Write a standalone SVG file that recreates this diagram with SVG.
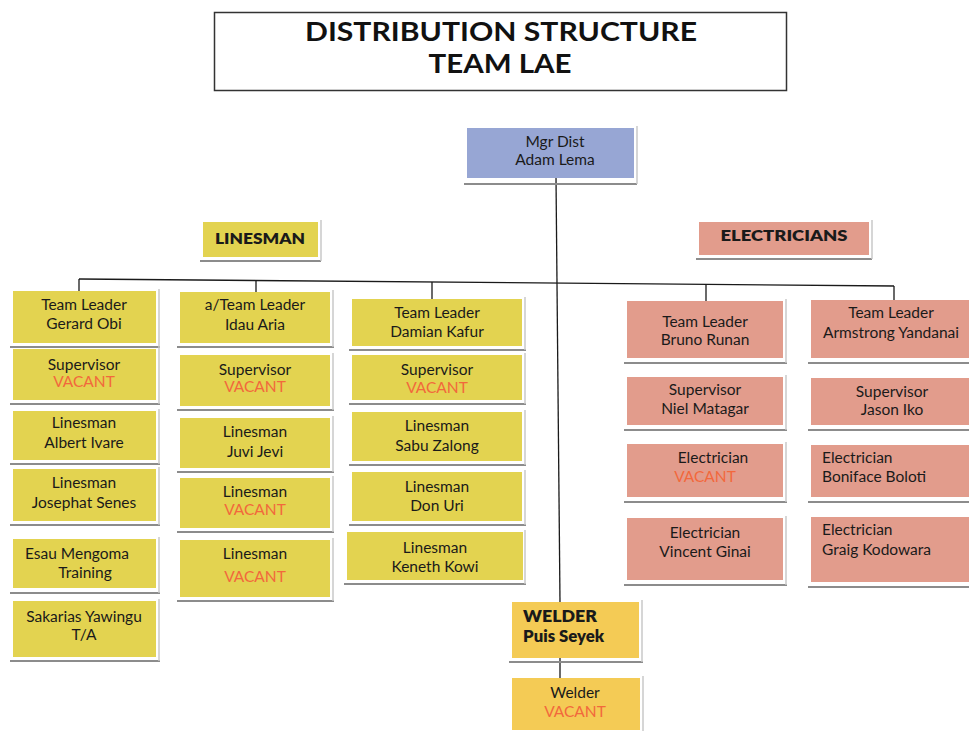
<svg xmlns="http://www.w3.org/2000/svg" width="969" height="731" viewBox="0 0 969 731">
<style>
text{font-family:Lato,"Open Sans","Liberation Sans",sans-serif;font-size:15.5px;fill:#1a1a1a;text-anchor:middle}
.title{font-size:27px;font-weight:700;fill:#111}
.lbl{font-size:15px;font-weight:800}
.wb{font-size:16px;font-weight:800;text-anchor:start}
.ls{text-anchor:start}
.v{fill:#f2683c}
.y{fill:#e3d350}
.s{fill:#e29c8c}
.o{fill:#f4cb55}
.b{fill:#97a6d4}
.sh{fill:none;stroke:#8c8c8c;stroke-width:2}
.shr{fill:none;stroke:#c8c8c8;stroke-width:1.5}
.c{fill:none;stroke:#1a1a1a;stroke-width:1.3}
</style>
<rect width="969" height="731" fill="#ffffff"/>

<g id="title">
<rect x="214.5" y="12.5" width="572" height="78" fill="#fff" stroke="#333" stroke-width="1.5"/>
<text class="title" x="501" y="41" textLength="392" lengthAdjust="spacingAndGlyphs">DISTRIBUTION STRUCTURE</text>
<text class="title" x="500" y="73" textLength="143" lengthAdjust="spacingAndGlyphs">TEAM LAE</text>
</g>

<g id="connectors">
<path class="c" d="M556 178 L560 602"/>
<path class="c" d="M79 279 L894 286"/>
<path class="c" d="M79 279 V291"/>
<path class="c" d="M256 280.5 V292"/>
<path class="c" d="M432 282 V299"/>
<path class="c" d="M706 284.4 V301"/>
<path class="c" d="M894 286 V300"/>
<path class="c" d="M560 658 V678"/>
</g>

<g id="mgr">
<path class="sh" d="M464 184 H637"/><path class="shr" d="M637 126 V184"/>
<rect class="b" x="467" y="128" width="167" height="50"/>
<text x="555" y="147">Mgr Dist</text><text x="555" y="165">Adam Lema</text>
</g>

<g id="lbl-linesman">
<path class="sh" d="M200 261 H321"/><path class="shr" d="M321 220 V261"/>
<rect class="y" x="203" y="222" width="115" height="35"/>
<text class="lbl" x="260" y="244" textLength="90" lengthAdjust="spacingAndGlyphs">LINESMAN</text>
</g>

<g id="lbl-electricians">
<path class="sh" d="M696 259 H872"/><path class="shr" d="M872 220 V259"/>
<rect class="s" x="699" y="222" width="170" height="33"/>
<text class="lbl" x="784" y="241" textLength="127" lengthAdjust="spacingAndGlyphs">ELECTRICIANS</text>
</g>

<!-- Column 1 -->
<g id="c1n1">
<path class="sh" d="M10 347 H160"/><path class="shr" d="M159 289 V347"/>
<rect class="y" x="13" y="291" width="143" height="52"/>
<text x="84" y="310">Team Leader</text><text x="84" y="329">Gerard Obi</text>
</g>
<g id="c1n2">
<path class="sh" d="M10 404 H160"/><path class="shr" d="M159 347 V404"/>
<rect class="y" x="13" y="349" width="143" height="51"/>
<text x="84" y="370">Supervisor</text><text class="v" x="84" y="387">VACANT</text>
</g>
<g id="c1n3">
<path class="sh" d="M10 464 H160"/><path class="shr" d="M159 409 V464"/>
<rect class="y" x="13" y="411" width="143" height="49"/>
<text x="84" y="428">Linesman</text><text x="84" y="448">Albert Ivare</text>
</g>
<g id="c1n4">
<path class="sh" d="M10 525 H160"/><path class="shr" d="M159 467 V525"/>
<rect class="y" x="13" y="469" width="143" height="52"/>
<text x="84" y="488">Linesman</text><text x="84" y="508">Josephat Senes</text>
</g>
<g id="c1n5">
<path class="sh" d="M10 593 H160"/><path class="shr" d="M159 537 V593"/>
<rect class="y" x="13" y="539" width="143" height="49"/>
<text x="77" y="559">Esau Mengoma</text><text x="85" y="578">Training</text>
</g>
<g id="c1n6">
<path class="sh" d="M10 661 H160"/><path class="shr" d="M159 599 V661"/>
<rect class="y" x="13" y="601" width="143" height="56"/>
<text x="84" y="622">Sakarias Yawingu</text><text x="84" y="640">T/A</text>
</g>

<!-- Column 2 -->
<g id="c2n1">
<path class="sh" d="M177 347 H334"/><path class="shr" d="M333 290 V347"/>
<rect class="y" x="180" y="292" width="150" height="51"/>
<text x="255" y="310">a/Team Leader</text><text x="255" y="330">Idau Aria</text>
</g>
<g id="c2n2">
<path class="sh" d="M177 410 H334"/><path class="shr" d="M333 353 V410"/>
<rect class="y" x="180" y="355" width="150" height="51"/>
<text x="255" y="375">Supervisor</text><text class="v" x="255" y="392">VACANT</text>
</g>
<g id="c2n3">
<path class="sh" d="M177 472 H334"/><path class="shr" d="M333 416 V472"/>
<rect class="y" x="180" y="418" width="150" height="50"/>
<text x="255" y="437">Linesman</text><text x="255" y="457">Juvi Jevi</text>
</g>
<g id="c2n4">
<path class="sh" d="M177 532 H334"/><path class="shr" d="M333 476 V532"/>
<rect class="y" x="180" y="478" width="150" height="50"/>
<text x="255" y="497">Linesman</text><text class="v" x="255" y="515">VACANT</text>
</g>
<g id="c2n5">
<path class="sh" d="M177 601 H334"/><path class="shr" d="M333 538 V601"/>
<rect class="y" x="180" y="540" width="150" height="57"/>
<text x="255" y="559">Linesman</text><text class="v" x="255" y="582">VACANT</text>
</g>

<!-- Column 3 -->
<g id="c3n1">
<path class="sh" d="M349 350 H526"/><path class="shr" d="M525 297 V350"/>
<rect class="y" x="352" y="299" width="170" height="47"/>
<text x="437" y="318">Team Leader</text><text x="437" y="337">Damian Kafur</text>
</g>
<g id="c3n2">
<path class="sh" d="M349 404 H526"/><path class="shr" d="M525 353 V404"/>
<rect class="y" x="352" y="355" width="170" height="45"/>
<text x="437" y="375">Supervisor</text><text class="v" x="437" y="393">VACANT</text>
</g>
<g id="c3n3">
<path class="sh" d="M349 465 H526"/><path class="shr" d="M525 410 V465"/>
<rect class="y" x="352" y="412" width="170" height="49"/>
<text x="437" y="431">Linesman</text><text x="437" y="451">Sabu Zalong</text>
</g>
<g id="c3n4">
<path class="sh" d="M349 525 H526"/><path class="shr" d="M525 470 V525"/>
<rect class="y" x="352" y="472" width="170" height="49"/>
<text x="437" y="492">Linesman</text><text x="437" y="511">Don Uri</text>
</g>
<g id="c3n5">
<path class="sh" d="M344 584 H526"/><path class="shr" d="M525 530 V584"/>
<rect class="y" x="347" y="532" width="176" height="48"/>
<text x="435" y="553">Linesman</text><text x="435" y="572">Keneth Kowi</text>
</g>

<!-- Column 4 -->
<g id="c4n1">
<path class="sh" d="M624 363 H787"/><path class="shr" d="M786 299 V363"/>
<rect class="s" x="627" y="301" width="156" height="57"/>
<text x="705" y="327">Team Leader</text><text x="705" y="345">Bruno Runan</text>
</g>
<g id="c4n2">
<path class="sh" d="M624 430 H787"/><path class="shr" d="M786 375 V430"/>
<rect class="s" x="627" y="377" width="156" height="48"/>
<text x="705" y="395">Supervisor</text><text x="705" y="414">Niel Matagar</text>
</g>
<g id="c4n3">
<path class="sh" d="M624 502 H787"/><path class="shr" d="M786 442 V502"/>
<rect class="s" x="627" y="444" width="156" height="53"/>
<text x="713" y="463">Electrician</text><text class="v" x="705" y="482">VACANT</text>
</g>
<g id="c4n4">
<path class="sh" d="M624 585 H787"/><path class="shr" d="M786 516 V585"/>
<rect class="s" x="627" y="518" width="156" height="62"/>
<text x="705" y="538">Electrician</text><text x="705" y="557">Vincent Ginai</text>
</g>

<!-- Column 5 -->
<g id="c5n1">
<path class="sh" d="M808 363 H969"/>
<rect class="s" x="811" y="300" width="162" height="58"/>
<text x="891" y="318">Team Leader</text><text x="891" y="338">Armstrong Yandanai</text>
</g>
<g id="c5n2">
<path class="sh" d="M808 430 H969"/>
<rect class="s" x="811" y="378" width="162" height="47"/>
<text x="892" y="397">Supervisor</text><text x="892" y="415">Jason Iko</text>
</g>
<g id="c5n3">
<path class="sh" d="M808 502 H969"/>
<rect class="s" x="811" y="445" width="162" height="52"/>
<text class="ls" x="822" y="463">Electrician</text><text class="ls" x="822" y="482">Boniface Boloti</text>
</g>
<g id="c5n4">
<path class="sh" d="M808 587 H969"/>
<rect class="s" x="811" y="517" width="162" height="65"/>
<text class="ls" x="822" y="535">Electrician</text><text class="ls" x="822" y="555">Graig Kodowara</text>
</g>

<!-- Welders -->
<g id="welder">
<path class="sh" d="M509 662 H643"/><path class="shr" d="M642 600 V662"/>
<rect class="o" x="512" y="602" width="127" height="56"/>
<text class="wb" x="523" y="622" textLength="74" lengthAdjust="spacingAndGlyphs">WELDER</text><text class="wb" x="523" y="642" textLength="81" lengthAdjust="spacingAndGlyphs">Puis Seyek</text>
</g>
<g id="welder-vacant">
<path class="shr" d="M643 676 V731"/>
<rect class="o" x="512" y="678" width="128" height="52"/>
<text x="575" y="698">Welder</text><text class="v" x="575" y="717">VACANT</text>
</g>
</svg>
